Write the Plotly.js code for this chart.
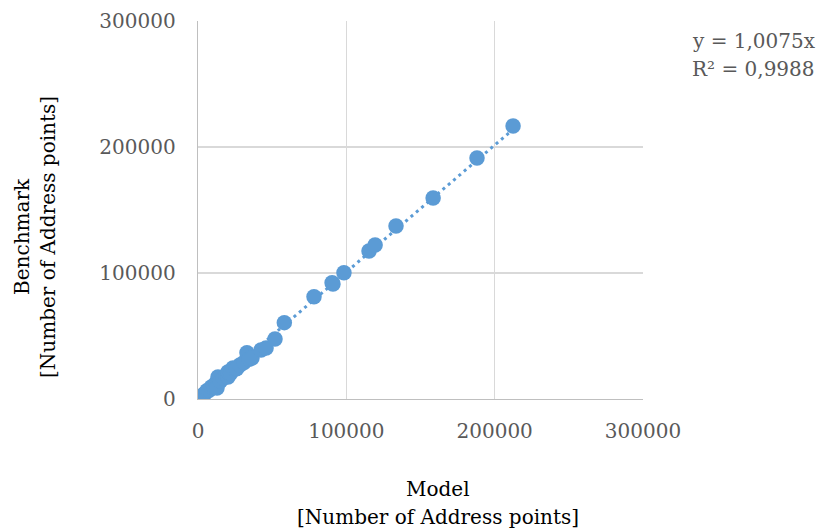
<!DOCTYPE html>
<html>
<head>
<meta charset="utf-8">
<script src="https://cdn.plot.ly/plotly-3.0.1.min.js"></script>
<style>html,body{margin:0;padding:0;background:#fff;}#chart{width:820px;height:529px;}</style>
</head>
<body>
<div id="chart"></div>
<script>
// Model (x) vs Benchmark (y), number of address points
const modelValues = [1500, 3000, 4500, 6000, 7500, 9000, 10500, 12000, 12800, 13500, 15000, 17000, 19000, 20200, 20200, 22000, 23600, 26000, 28300, 31000, 33000, 34500, 36400, 42500, 45900, 51900, 58200, 78200, 90400, 91000, 98400, 115300, 119400, 133500, 158500, 188100, 212400];
const benchmarkValues = [1600, 2800, 4200, 6500, 7000, 9500, 10000, 12500, 8700, 17500, 14000, 16500, 18000, 17500, 21400, 20500, 24600, 24000, 27000, 29000, 36700, 31500, 32500, 38900, 40500, 47600, 60600, 81200, 92300, 91300, 100200, 117500, 122200, 137300, 159500, 191300, 216700];
const slope = 1.0075;
const r2 = 0.9988;
const tickValues = [0, 100000, 200000, 300000];
const tickLabels = ["0", "100000", "200000", "300000"];

const trendX = [0, Math.max(...modelValues)];
const trendY = trendX.map(v => v * slope);
const fmt = v => v.toFixed(4).replace('.', ',');

const color = '#5B9BD5';
const serif = 'DejaVu Serif, serif';
const fs = 20;

const traces = [
  {x: trendX, y: trendY, mode: 'lines', type: 'scatter',
   line: {color: color, width: 3, dash: '3px,4px'}, hoverinfo: 'skip', showlegend: false},
  {x: modelValues, y: benchmarkValues, mode: 'markers', type: 'scatter',
   marker: {color: color, size: 15.5, line: {width: 0}}, showlegend: false}
];

function ann(text, x, y, xshift, yshift, opts) {
  return Object.assign({text: text, xref: 'paper', yref: 'paper', x: x, y: y,
    xshift: xshift, yshift: yshift, showarrow: false,
    font: {family: serif, size: fs, color: '#000'}}, opts || {});
}

const layout = {
  width: 820, height: 529,
  margin: {l: 198, r: 177, t: 21, b: 130},
  paper_bgcolor: '#fff', plot_bgcolor: '#fff',
  showlegend: false,
  font: {family: serif, size: fs, color: '#595959'},
  xaxis: {range: [0, 300000], tickvals: tickValues, ticktext: tickLabels,
    showgrid: true, gridcolor: '#d9d9d9', gridwidth: 1.3,
    showline: true, linecolor: '#bfbfbf', linewidth: 1.3,
    zeroline: false, ticks: '', ticklabelstandoff: 14,
    tickfont: {family: serif, size: fs, color: '#595959'}},
  yaxis: {range: [0, 300000], tickvals: tickValues, ticktext: tickLabels,
    showgrid: true, gridcolor: '#d9d9d9', gridwidth: 1.3,
    showline: true, linecolor: '#bfbfbf', linewidth: 1.3,
    zeroline: false, ticks: '', ticklabelstandoff: 17,
    tickfont: {family: serif, size: fs, color: '#595959'}},
  annotations: [
    ann('Model', 0.54, 0, 0, -90, {xanchor: 'center', yanchor: 'middle'}),
    ann('[Number of Address points]', 0.54, 0, 0, -118, {xanchor: 'center', yanchor: 'middle'}),
    ann('Benchmark', 0, 0.4286, -176, 0, {xanchor: 'center', yanchor: 'middle', textangle: -90}),
    ann('[Number of Address points]', 0, 0.4286, -150, 0, {xanchor: 'center', yanchor: 'middle', textangle: -90}),
    ann('y = ' + fmt(slope) + 'x', 1, 1, 47, -20, {xanchor: 'left', yanchor: 'middle', font: {family: serif, size: fs, color: '#595959'}}),
    ann('R² = ' + fmt(r2), 1, 1, 47, -48, {xanchor: 'left', yanchor: 'middle', font: {family: serif, size: fs, color: '#595959'}})
  ]
};

Plotly.newPlot('chart', traces, layout, {displayModeBar: false, staticPlot: true});
</script>
</body>
</html>
